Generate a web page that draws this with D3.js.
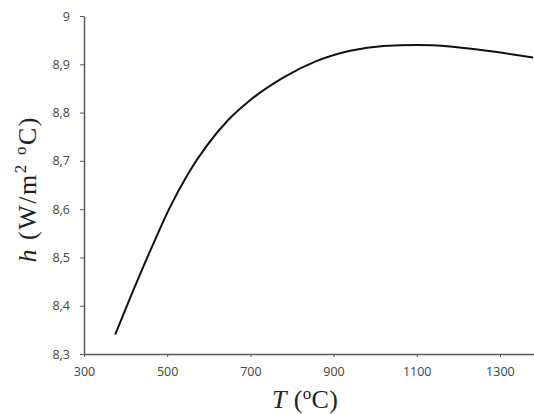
<!DOCTYPE html>
<html>
<head>
<meta charset="utf-8">
<script src="https://cdn.jsdelivr.net/npm/d3@7"></script>
<style>
	body { margin: 0; background: #fff; }
	.axis path, .axis line { stroke: #595959; }
	.axis path { stroke-width: 1.5; }
	.axis text { font-family: "Open Sans", "Liberation Sans", sans-serif; font-size: 12.5px; fill: #444; }
	.title { font-family: "Liberation Serif", "Times New Roman", serif; font-size: 26px; fill: #222; }
</style>
</head>
<body>
<svg class="chart"></svg>
<script>
// temperature (°C) and heat transfer coefficient
var temps = [375, 420, 465, 505, 550, 595, 645, 700, 780, 860, 940, 1020, 1100, 1180, 1260, 1380];
var hValues = [8.34, 8.435, 8.525, 8.601, 8.673, 8.731, 8.783, 8.826, 8.873, 8.907, 8.928, 8.938, 8.940, 8.937, 8.929, 8.914];
var xTicks = [300, 500, 700, 900, 1100, 1300];
var yTicks = [8.3, 8.4, 8.5, 8.6, 8.7, 8.8, 8.9, 9];

var svgWidth = 534,
	svgHeight = 414;

var chart = d3.select( ".chart" )
	.attr( "width", svgWidth )
	.attr( "height", svgHeight );

var plotLeft = 84, plotTop = 16, plotRight = 534, plotBottom = 354;

var x = d3.scaleLinear().domain( [300, 1382] ).range( [plotLeft, plotRight] );
var y = d3.scaleLinear().domain( [8.3, 9] ).range( [plotBottom, plotTop] );

var comma = d3.formatLocale( { decimal: ",", thousands: ".", grouping: [3], currency: ["", ""] } );

chart.append( "g" )
	.attr( "class", "axis" )
	.attr( "transform", "translate(0," + plotBottom + ")" )
	.call( d3.axisBottom( x ).tickValues( xTicks ).tickSize( 3 ).tickSizeOuter( 0 ).tickPadding( 10 ).tickFormat( d3.format( "d" ) ) );

chart.append( "g" )
	.attr( "class", "axis" )
	.attr( "transform", "translate(" + plotLeft + ",0)" )
	.call( d3.axisLeft( y ).tickValues( yTicks ).tickSize( 4 ).tickSizeOuter( 0 ).tickPadding( 10 ).tickFormat( comma.format( ".1~f" ) ) );

var line = d3.line()
	.x( function(d, i) { return x( temps[i] ); } )
	.y( function(d) { return y( d ); } )
	.curve( d3.curveMonotoneX );

chart.append( "path" )
	.datum( hValues )
	.attr( "d", line )
	.attr( "fill", "none" )
	.attr( "stroke", "#111" )
	.attr( "stroke-width", 2 );

// axis titles
var xt = chart.append( "text" )
	.attr( "class", "title" )
	.attr( "x", 305 )
	.attr( "y", 408 )
	.attr( "text-anchor", "middle" )
	.attr( "textLength", 66 )
	.attr( "lengthAdjust", "spacing" );
xt.append( "tspan" ).attr( "font-style", "italic" ).text( "T" );
xt.append( "tspan" ).text( " (" );
xt.append( "tspan" ).attr( "font-size", "17px" ).attr( "dy", -9 ).text( "o" );
xt.append( "tspan" ).attr( "dy", 9 ).text( "C)" );

var yt = chart.append( "text" )
	.attr( "class", "title" )
	.attr( "font-size", "27px" )
	.attr( "transform", "translate(36,190) rotate(-90)" )
	.attr( "text-anchor", "middle" )
	.attr( "textLength", 145 )
	.attr( "lengthAdjust", "spacing" );
yt.append( "tspan" ).attr( "font-style", "italic" ).text( "h" );
yt.append( "tspan" ).text( " (W/m" );
yt.append( "tspan" ).attr( "font-size", "17px" ).attr( "dy", -10 ).text( "2" );
yt.append( "tspan" ).attr( "dy", 10 ).text( " " );
yt.append( "tspan" ).attr( "font-size", "17px" ).attr( "dy", -10 ).text( "o" );
yt.append( "tspan" ).attr( "dy", 10 ).text( "C)" );
</script>
</body>
</html>
